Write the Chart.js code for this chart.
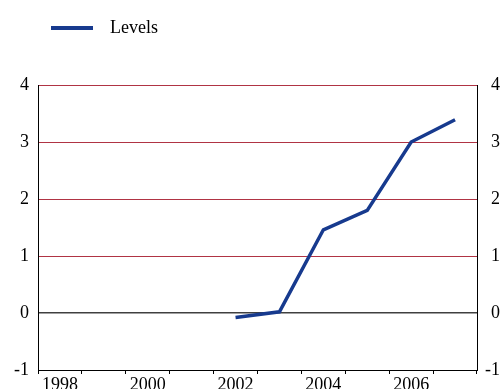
<!DOCTYPE html>
<html>
<head>
<meta charset="utf-8">
<script src="https://cdn.jsdelivr.net/npm/chart.js@4"></script>
<style>
  html, body { margin: 0; padding: 0; background: #ffffff; }
</style>
</head>
<body>
<canvas id="chart" width="502" height="389"></canvas>
<script>
// Chart data
const years = ['1998', '1999', '2000', '2001', '2002', '2003', '2004', '2005', '2006', '2007'];
const levels = [null, null, null, null, -0.08, 0.02, 1.46, 1.8, 3.0, 3.39];
const yTicks = [-1, 0, 1, 2, 3, 4];

const FONT = { family: "'Liberation Serif', 'Times New Roman', serif", size: 18 };
const LINE_BLUE = '#173a8e';
const GRID_RED = '#b03444';

// Legend marker: a 42px line inside a wider box so the label sits further right
const legendMarker = document.createElement('canvas');
legendMarker.width = 50;
legendMarker.height = 4;
(function() {
    const c = legendMarker.getContext('2d');
    c.fillStyle = LINE_BLUE;
    c.fillRect(0, 0, 42, 4);
})();

// Pin legend size / position so the plot area starts where the reference does
const legendPlace = {
    id: 'legendPlace',
    beforeInit(chart) {
        const fit = chart.legend.fit;
        chart.legend.fit = function() {
            fit.bind(chart.legend)();
            this.height = 85;
        };
    },
    afterLayout(chart) {
        chart.legend.left = 41;
        chart.legend.top = 9;
    }
};

// y axes: fixed width, and no label overhang padding pushing the plot area
function fixYAxis(width) {
    return function(scale) {
        scale.width = width;
        scale.paddingTop = 0;
        scale.paddingBottom = 0;
    };
}

const ctx = document.getElementById('chart').getContext('2d');
new Chart(ctx, {
    type: 'line',
    data: {
        labels: years,
        datasets: [{
            label: 'Levels',
            data: levels,
            borderColor: LINE_BLUE,
            backgroundColor: LINE_BLUE,
            borderWidth: 3.5,
            pointRadius: 0,
            tension: 0,
            yAxisID: 'y'
        }]
    },
    plugins: [legendPlace],
    options: {
        responsive: false,
        animation: false,
        layout: { padding: { top: 0, left: 0, bottom: 0, right: 2 } },
        plugins: {
            legend: {
                position: 'top',
                align: 'start',
                labels: {
                    font: FONT,
                    color: '#000',
                    usePointStyle: true,
                    pointStyle: legendMarker,
                    pointStyleWidth: 50,
                    padding: 10
                }
            },
            tooltip: { enabled: false }
        },
        scales: {
            x: {
                type: 'category',
                offset: true,
                grid: {
                    offset: true,
                    drawOnChartArea: false,
                    drawTicks: true,
                    tickLength: 4,
                    color: '#000'
                },
                border: { display: true, color: '#000', width: 1 },
                ticks: {
                    autoSkip: false,
                    maxRotation: 0,
                    font: FONT,
                    color: '#000',
                    padding: 0,
                    callback: function(val, i) {
                        return i % 2 === 0 ? years[i] : '';
                    }
                },
                afterFit(scale) { scale.height = 19; }
            },
            y: {
                position: 'left',
                min: -1,
                max: 4,
                afterBuildTicks(scale) { scale.ticks = yTicks.map(v => ({ value: v })); },
                grid: {
                    drawTicks: false,
                    color: function(c) {
                        if (c.tick.value === 0) return '#404040';
                        if (c.tick.value === -1) return 'rgba(0,0,0,0)';
                        return GRID_RED;
                    },
                    lineWidth: function(c) {
                        return c.tick.value === 0 ? 1.5 : 1;
                    }
                },
                border: { display: true, color: '#000', width: 1 },
                ticks: { font: FONT, color: '#000', padding: 9 },
                afterFit: fixYAxis(38)
            },
            y2: {
                position: 'right',
                min: -1,
                max: 4,
                afterBuildTicks(scale) { scale.ticks = yTicks.map(v => ({ value: v })); },
                grid: { drawOnChartArea: false, drawTicks: false },
                border: { display: true, color: '#000', width: 1 },
                ticks: { font: FONT, color: '#000', padding: 10, crossAlign: 'far' },
                afterFit: fixYAxis(23)
            }
        }
    }
});
</script>
</body>
</html>
